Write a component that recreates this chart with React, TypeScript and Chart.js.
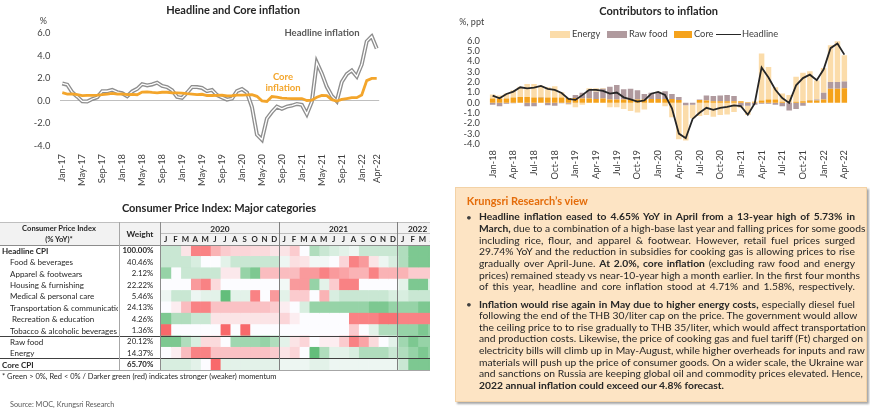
import React, { useEffect, useRef } from 'react';
import { Chart, registerables } from 'chart.js';

Chart.register(...registerables);

const FONT = 'Lato, "Open Sans", sans-serif';
const TXT = '#404040';
const DARK = '#262626';
const ORANGE = '#f3a52b';
const CORE_BAR = '#f5a21b';
const RAW_BAR = '#b09a9e';
const ENERGY_BAR = '#fbdcaa';

// ---------- Headline and Core inflation (Jan-17 .. Apr-22)
const LEFT_MONTHS = [
  'Jan-17','Feb-17','Mar-17','Apr-17','May-17','Jun-17','Jul-17','Aug-17','Sep-17','Oct-17','Nov-17','Dec-17',
  'Jan-18','Feb-18','Mar-18','Apr-18','May-18','Jun-18','Jul-18','Aug-18','Sep-18','Oct-18','Nov-18','Dec-18',
  'Jan-19','Feb-19','Mar-19','Apr-19','May-19','Jun-19','Jul-19','Aug-19','Sep-19','Oct-19','Nov-19','Dec-19',
  'Jan-20','Feb-20','Mar-20','Apr-20','May-20','Jun-20','Jul-20','Aug-20','Sep-20','Oct-20','Nov-20','Dec-20',
  'Jan-21','Feb-21','Mar-21','Apr-21','May-21','Jun-21','Jul-21','Aug-21','Sep-21','Oct-21','Nov-21','Dec-21',
  'Jan-22','Feb-22','Mar-22','Apr-22',
];
const LEFT_TICKS = ['Jan-17','May-17','Sep-17','Jan-18','May-18','Sep-18','Jan-19','May-19','Sep-19','Jan-20','May-20','Sep-20','Jan-21','May-21','Sep-21','Jan-22','Apr-22'];
const HEADLINE = [
  1.55,1.44,0.76,0.38,-0.04,-0.05,0.17,0.32,0.86,0.86,0.98,0.78,
  0.68,0.42,0.84,1.07,1.49,1.38,1.46,1.62,1.33,1.23,0.94,0.36,
  0.27,0.73,1.24,1.23,1.15,0.87,0.98,0.52,0.32,0.11,0.21,0.87,
  1.05,0.74,-0.54,-2.99,-3.44,-1.57,-0.98,-0.50,-0.70,-0.50,-0.41,-0.27,
  -0.34,-1.17,-0.08,3.41,2.44,1.25,0.45,-0.02,1.68,2.38,2.71,2.17,
  3.23,5.28,5.73,4.65,
];
const CORE = [
  0.73,0.61,0.63,0.56,0.47,0.49,0.50,0.52,0.56,0.61,0.66,0.61,
  0.62,0.56,0.58,0.55,0.78,0.81,0.76,0.72,0.77,0.77,0.72,0.71,
  0.69,0.64,0.61,0.56,0.59,0.48,0.48,0.49,0.51,0.44,0.46,0.52,
  0.52,0.53,0.56,0.41,0.01,-0.05,0.39,0.33,0.24,0.22,0.21,0.21,
  0.21,0.04,0.07,0.32,0.49,0.47,0.11,-0.01,0.13,0.21,0.29,0.29,
  0.52,1.80,2.00,2.00,
];

// ---------- Contributors to inflation (Jan-18 .. Apr-22)
const RIGHT_MONTHS = LEFT_MONTHS.slice(12);
const RIGHT_TICKS = ['Jan-18','Apr-18','Jul-18','Oct-18','Jan-19','Apr-19','Jul-19','Oct-19','Jan-20','Apr-20','Jul-20','Oct-20','Jan-21','Apr-21','Jul-21','Oct-21','Jan-22','Apr-22'];
const CORE_C = [
  0.4,0.4,0.4,0.5,0.55,0.55,0.5,0.5,0.5,0.5,0.5,0.45,
  0.45,0.4,0.4,0.35,0.4,0.3,0.3,0.3,0.35,0.3,0.3,0.35,
  0.35,0.35,0.35,0.25,0.0,0.0,0.25,0.2,0.15,0.15,0.15,0.15,
  0.15,0.03,0.05,0.2,0.3,0.3,0.1,0.0,0.1,0.15,0.2,0.2,
  0.3,1.35,1.35,1.4,
];
const RAW_C = [
  -0.2,-0.35,-0.1,-0.05,0,-0.35,-0.35,0.05,-0.25,-0.3,-0.05,-0.1,
  0.3,0.55,0.8,0.7,0.95,1.25,1.4,1.0,1.0,0.9,0.55,0.6,
  0.6,0.75,0.5,0.3,-0.25,-0.2,0.05,0.5,0.5,0.55,0.6,0.5,
  -0.3,-0.3,-0.2,-0.1,-0.1,-0.2,-0.35,-0.75,-0.6,-0.3,0.05,0.1,
  0.65,0.65,0.65,0.65,
];
const ENERGY_C = [
  0.4,0.3,0.5,0.7,1.0,1.25,1.3,1.1,1.0,1.1,0.5,-0.1,
  -0.45,-0.2,0.2,0.35,0.07,-0.45,-0.45,-0.6,-0.8,-0.95,-0.65,0.0,
  0.1,-0.35,-1.4,-3.55,-3.4,-1.3,-1.3,-1.2,-1.35,-1.2,-1.15,-0.9,
  -0.2,-0.9,0.1,4.55,3.15,1.2,0.8,0.75,2.4,2.75,2.8,1.85,
  2.4,3.55,3.95,2.55,
];
const HEADLINE_R = HEADLINE.slice(12);

// ---------- CPI heatmap (momentum level, -3 weakest .. +3 strongest), Jan-20 .. Apr-22
const CPI_ROWS = ['Headline CPI','Food & beverages','Apparel & footwears','Housing & furnishing','Medical & personal care','Transportation & communication','Recreation & education','Tobacco & alcoholic beverages','Raw food','Energy','Core CPI'];
const CPI_WEIGHTS = ['100.00%','40.46%','2.12%','22.22%','5.46%','24.13%','4.26%','1.36%','20.12%','14.37%','65.70%'];
const HEAT_YEARS = ['2020','2021','2022'];
const HEAT_YEAR_MONTHS = [12, 12, 4];
const MONTH_LETTERS = ['J','F','M','A','M','J','J','A','S','O','N','D'];
const HM_HEADLINE = [1,1,-0.5,-2.5,-2.5,-1.5,-1,-0.8,-0.8,-0.7,-0.7,-0.5, -0.5,-1,0,1.5,1,0.7,0.5,0.3,1,1,1,1, 1.5,2.5,2.5,2.5];
const HM_FOOD = [1,1,1,0.7,0,0,0.5,1,1,1,1,1, 0.3,-0.6,-0.5,0.2,0.2,0,-0.8,-2.5,-2,-0.5,0.3,0.7, 1.5,2.5,2.5,2.5];
const HM_APPAREL = [2,0,1,1,1,1,-0.4,-0.4,2,2.5,-1.3,-1.3, -1.3,-1.3,-2,-2,-2.5,-2,-1.8,-1.5,-1.5,-2.5,-1.5,-1.5, -1.5,-1,-1,-1];
const HM_HOUSING = [0,0,0,-2,-2.5,-0.7,0,0,0,0,0,0, 0.2,-2,-2,2,0.5,-1,-2.5,-2.5,0,0,0,0, 0.5,2.5,2.5,0.5];
const HM_MEDICAL = [0.3,1,1,0.3,0.5,0.5,3,0.5,0.5,-2.5,0,-2, 0.5,-1,-1,0,-1.5,0.7,1,1,1,1,1,0.7, 0.7,1,1,1];
const HM_TRANSPORT = [0,-0.3,-1.3,-2.5,-2.5,-1.2,-1.2,-1.2,-1.2,-1.2,-1.2,-1, -0.3,0,0.7,2,2,2,2,2,2,2.5,2.5,2, 2,2,2.5,2.5];
const HM_RECREATION = [2.5,1.5,1.5,1,1,-0.5,-0.5,-0.5,-0.5,-0.5,-0.5,-0.5, -0.8,-0.3,0,0,0,0,0,-2.5,-2.5,-2.5,-2.8,-2.8, -2.5,-2.5,-2.5,-2.5];
const HM_TOBACCO = [-3,0,0,0,0,0,-3,0,-3,0,0,0, 0,0,0,0,0,0,0,-1,0,0.5,1.5,1.5, 2,2,2.5,2];
const HM_RAWFOOD = [2.5,2.5,1.5,0.7,-0.7,-0.7,0,1.8,1.8,1.8,2,1.5, 0.5,-0.5,-0.8,0,-0.3,-0.3,-1,-2.5,-1.8,-0.7,0,0.5, 1.8,2.5,2,2];
const HM_ENERGY = [0,-0.3,-1.3,-2.5,-2.5,-1.2,-1.2,-1.2,-1.2,-1.2,-1.2,-1, -0.5,-0.8,0,3,1.5,0.5,0.5,0.7,1.5,1.5,1.5,1, 1.5,2,2.5,2];
const HM_CORE = [0.7,0.7,0.7,0.5,0,-3,0.5,0.5,0.5,0.5,0.5,0.5, 0.3,0.3,0.3,0.5,0.5,0.3,0.3,0.3,0.3,0.3,0.3,0.3, 1,2.5,2.5,2.5];
const HEAT_LEVELS = [HM_HEADLINE, HM_FOOD, HM_APPAREL, HM_HOUSING, HM_MEDICAL, HM_TRANSPORT, HM_RECREATION, HM_TOBACCO, HM_RAWFOOD, HM_ENERGY, HM_CORE];

// ---------- Text box
type Seg = [string, boolean];
const BOX_P1: Seg[][] = [
  [['Headline inflation eased to 4.65% YoY in April from a 13-year high of 5.73% in', true]],
  [['March,', true], [' due to a combination of a high-base last year and falling prices for some goods', false]],
  [['including rice, flour, and apparel & footwear. However, retail fuel prices surged', false]],
  [['29.74% YoY and the reduction in subsidies for cooking gas is allowing prices to rise', false]],
  [['gradually over April-June. ', false], ['At 2.0%, core inflation', true], [' (excluding raw food and energy', false]],
  [['prices) remained steady vs near-10-year high a month earlier. In the first four months', false]],
  [['of this year, headline and core inflation stood at 4.71% and 1.58%, respectively.', false]],
];
const BOX_P2: Seg[][] = [
  [['Inflation would rise again in May due to higher energy costs,', true], [' especially diesel fuel', false]],
  [['following the end of the THB 30/liter cap on the price. The government would allow', false]],
  [['the ceiling price to to rise gradually to THB 35/liter, which would affect transportation', false]],
  [['and production costs. Likewise, the price of cooking gas and fuel tariff (Ft) charged on', false]],
  [['electricity bills will climb up in May-August, while higher overheads for inputs and raw', false]],
  [['materials will push up the price of consumer goods. On a wider scale, the Ukraine war', false]],
  [['and sanctions on Russia are keeping global oil and commodity prices elevated. Hence,', false]],
  [['2022 annual inflation could exceed our 4.8% forecast.', true]],
];

// ---------- layout constants
const HX = 160.7; // heatmap left
const CW = 9.88; // heat column width
const HY = 245.3; // first data row top
const RH = 11.36; // row height

function levelColor(v: number) {
  const t = Math.max(-1, Math.min(1, v / 3));
  const w = [252, 252, 255];
  const g = [99, 190, 123];
  const r = [248, 105, 107];
  const c = t >= 0 ? g : r;
  const a = Math.abs(t);
  const m = w.map((x, i) => Math.round(x + (c[i] - x) * a));
  return `rgb(${m[0]},${m[1]},${m[2]})`;
}

function Txt(props: { x: number; y: number; text: React.ReactNode; size?: number; bold?: boolean; color?: string; align?: 'left' | 'center' | 'right'; w?: number; clip?: boolean }) {
  const { x, y, text, size = 9, bold = false, color = DARK, align = 'left', w = 300, clip = false } = props;
  const h = Math.ceil(size * 1.4);
  let left = x;
  if (align === 'center') left = x - w / 2;
  if (align === 'right') left = x - w;
  return (
    <div style={{ position: 'absolute', left, top: y - h / 2, width: w, height: h, lineHeight: h + 'px', fontSize: size, fontWeight: bold ? 700 : 400, color, textAlign: align, whiteSpace: 'nowrap', overflow: clip ? 'hidden' : 'visible', fontFamily: FONT, zIndex: 3 }}>
      {text}
    </div>
  );
}

function HLine({ x1, x2, y, color, t = 1 }: { x1: number; x2: number; y: number; color: string; t?: number }) {
  return <div style={{ position: 'absolute', left: x1, top: y - t / 2, width: x2 - x1, height: t, background: color, zIndex: 2 }} />;
}
function VLine({ x, y1, y2, color, t = 1 }: { x: number; y1: number; y2: number; color: string; t?: number }) {
  return <div style={{ position: 'absolute', left: x - t / 2, top: y1, width: t, height: y2 - y1, background: color, zIndex: 2 }} />;
}

export default function App() {
  const leftRef = useRef<HTMLCanvasElement>(null);
  const rightRef = useRef<HTMLCanvasElement>(null);
  const heatRef = useRef<HTMLCanvasElement>(null);

  useEffect(() => {
    const charts: Chart[] = [];
    const tickFont = { family: FONT, size: 9.3 };

    charts.push(new Chart(leftRef.current!, {
      type: 'line',
      data: {
        labels: LEFT_MONTHS,
        datasets: [
          { label: 'Core inflation', data: CORE, borderColor: ORANGE, borderWidth: 2.8, pointRadius: 0, tension: 0, order: -3 },
          { label: 'Headline inner', data: HEADLINE, borderColor: '#ffffff', borderWidth: 1.3, pointRadius: 0, tension: 0, order: -2 },
          { label: 'Headline inflation', data: HEADLINE, borderColor: '#8e8e8e', borderWidth: 4, pointRadius: 0, tension: 0, order: -1 },
        ],
      },
      options: {
        animation: false,
        responsive: true,
        maintainAspectRatio: false,
        layout: { padding: { top: 33.3, right: 20.8, left: 0, bottom: 0 } },
        plugins: { legend: { display: false }, tooltip: { enabled: false } },
        scales: {
          x: {
            offset: true,
            grid: { display: false, drawTicks: false },
            border: { display: false },
            ticks: {
              autoSkip: false, maxRotation: 90, minRotation: 90, padding: 8, color: TXT, font: tickFont,
              callback: (_v: any, i: number) => (LEFT_TICKS.includes(LEFT_MONTHS[i]) ? LEFT_MONTHS[i] : ''),
            },
            afterFit: (s: any) => { s.height = 46; },
          },
          y: {
            min: -4, max: 6,
            ticks: { stepSize: 2, padding: 9.5, color: TXT, font: tickFont, callback: (v: any) => Number(v).toFixed(1) },
            grid: { drawTicks: false, color: (ctx: any) => (ctx.tick && ctx.tick.value === 0 ? '#bfbfbf' : 'rgba(0,0,0,0)'), lineWidth: 1 },
            border: { display: false },
            afterFit: (s: any) => { s.width = 59.8; },
          },
        },
      },
    } as any));

    charts.push(new Chart(rightRef.current!, {
      type: 'bar',
      data: {
        labels: RIGHT_MONTHS,
        datasets: [
          { type: 'bar', label: 'Core', data: CORE_C, backgroundColor: CORE_BAR, stack: 'c' },
          { type: 'bar', label: 'Raw food', data: RAW_C, backgroundColor: RAW_BAR, stack: 'c' },
          { type: 'bar', label: 'Energy', data: ENERGY_C, backgroundColor: ENERGY_BAR, stack: 'c' },
          { type: 'line', label: 'Headline', data: HEADLINE_R, borderColor: DARK, borderWidth: 1.8, pointRadius: 0, tension: 0, stack: 'h', order: -1 },
        ],
      },
      options: {
        animation: false,
        responsive: true,
        maintainAspectRatio: false,
        layout: { padding: { top: 40.7, right: 22.2, left: 0, bottom: 0 } },
        datasets: { bar: { categoryPercentage: 0.8, barPercentage: 1 } },
        plugins: { legend: { display: false }, tooltip: { enabled: false } },
        scales: {
          x: {
            stacked: true,
            offset: true,
            grid: { display: false, drawTicks: false },
            border: { display: false },
            ticks: {
              autoSkip: false, maxRotation: 90, minRotation: 90, padding: 6, color: TXT, font: tickFont,
              callback: (_v: any, i: number) => (RIGHT_TICKS.includes(RIGHT_MONTHS[i]) ? RIGHT_MONTHS[i] : ''),
            },
            afterFit: (s: any) => { s.height = 48; },
          },
          y: {
            stacked: true,
            min: -4, max: 6,
            ticks: { stepSize: 1, autoSkip: false, padding: 9.2, color: TXT, font: tickFont, callback: (v: any) => Number(v).toFixed(1) },
            grid: { display: false, drawTicks: false },
            border: { display: false },
            afterFit: (s: any) => { s.width = 59.2; },
          },
        },
      },
    } as any));

    const nCols = HM_HEADLINE.length;
    charts.push(new Chart(heatRef.current!, {
      type: 'bar',
      data: {
        labels: CPI_ROWS,
        datasets: HM_HEADLINE.map((_x, j) => ({
          label: 'col' + j,
          data: CPI_ROWS.map(() => 1),
          backgroundColor: HEAT_LEVELS.map((row) => levelColor(row[j])),
          borderWidth: 0,
        })),
      },
      options: {
        indexAxis: 'y',
        animation: false,
        responsive: true,
        maintainAspectRatio: false,
        layout: { padding: 0 },
        datasets: { bar: { categoryPercentage: 1, barPercentage: 1 } },
        plugins: { legend: { display: false }, tooltip: { enabled: false } },
        scales: {
          x: { stacked: true, display: false, min: 0, max: nCols },
          y: { stacked: true, display: false },
        },
      },
    } as any));

    return () => charts.forEach((c) => c.destroy());
  }, []);

  const rowIndent = [2, 10, 10, 10, 10, 10, 12, 10, 10, 10, 2];
  const rowBold = [true, false, false, false, false, false, false, false, false, false, true];
  const monthHeaders: { x: number; l: string }[] = [];
  const yearHeaders: { x: number; y: string }[] = [];
  let col = 0;
  HEAT_YEARS.forEach((yr, k) => {
    const n = HEAT_YEAR_MONTHS[k];
    yearHeaders.push({ x: HX + (col + n / 2) * CW, y: yr });
    for (let i = 0; i < n; i++) monthHeaders.push({ x: HX + (col + i + 0.5) * CW, l: MONTH_LETTERS[i] });
    col += n;
  });
  const yearDividers = [HX + 12 * CW, HX + 24 * CW];
  const tableBottom = HY + 11 * RH;

  const renderLine = (segs: Seg[], cy: number, last: boolean, key: string) => (
    <div key={key} style={{ position: 'absolute', left: 479, width: 376, top: cy - 6.5, height: 13, lineHeight: '13px', fontSize: 10.3, whiteSpace: 'nowrap', textAlign: last ? 'left' : 'justify', textAlignLast: last ? 'left' : 'justify', color: DARK, fontFamily: FONT } as any}>
      {segs.map((s, i) => <span key={i} style={{ fontWeight: s[1] ? 700 : 400 }}>{s[0]}</span>)}
    </div>
  );

  return (
    <div style={{ position: 'fixed', left: 0, top: 0, width: 870, height: 413, background: '#ffffff', overflow: 'hidden', fontFamily: FONT, color: DARK }}>
      {/* Left chart */}
      <Txt x={233} y={9.5} text="Headline and Core inflation" size={11} bold align="center" w={260} />
      <Txt x={43.3} y={20} text="%" size={9} color={TXT} align="center" w={20} />
      <div style={{ position: 'absolute', left: 0, top: 0, width: 400, height: 192 }}>
        <canvas ref={leftRef} />
      </div>
      <Txt x={322} y={33} text="Headline inflation" size={9.5} bold color="#595959" align="center" w={120} />
      <Txt x={283} y={77} text="Core" size={9.5} bold color={ORANGE} align="center" w={60} />
      <Txt x={283} y={88} text="inflation" size={9.5} bold color={ORANGE} align="center" w={60} />

      {/* Right chart */}
      <Txt x={658.7} y={11} text="Contributors to inflation" size={11} bold align="center" w={240} />
      <Txt x={459.3} y={21.7} text="%, ppt" size={9} color={TXT} />
      <div style={{ position: 'absolute', left: 430, top: 0, width: 440, height: 192 }}>
        <canvas ref={rightRef} />
      </div>
      <div style={{ position: 'absolute', left: 550, top: 31, width: 20, height: 7, background: ENERGY_BAR }} />
      <Txt x={572} y={34.3} text="Energy" size={9.3} color={TXT} w={40} />
      <div style={{ position: 'absolute', left: 607, top: 31, width: 20, height: 7, background: RAW_BAR }} />
      <Txt x={629} y={34.3} text="Raw food" size={9.3} color={TXT} w={50} />
      <div style={{ position: 'absolute', left: 674, top: 31, width: 18, height: 7, background: CORE_BAR }} />
      <Txt x={694} y={34.3} text="Core" size={9.3} color={TXT} w={30} />
      <div style={{ position: 'absolute', left: 716, top: 33.5, width: 25, height: 1.7, background: DARK }} />
      <Txt x={742} y={34.3} text="Headline" size={9.3} color={TXT} w={50} />

      {/* Table */}
      <Txt x={219} y={208.3} text="Consumer Price Index: Major categories" size={11} bold align="center" w={300} />
      <div style={{ position: 'absolute', left: 0, top: 0, width: 430, height: 413, overflow: 'hidden' }}>
        <div style={{ position: 'absolute', left: 0, top: 222, width: 440, height: HY - 222, background: '#f2f2f2' }} />
        <div style={{ position: 'absolute', left: HX, top: HY, width: CW * HM_HEADLINE.length, height: 11 * RH }}>
          <canvas ref={heatRef} />
        </div>
        <HLine x1={0} x2={440} y={222} color="#bfbfbf" />
        <HLine x1={HX} x2={440} y={233.6} color="#bfbfbf" />
        <HLine x1={0} x2={440} y={HY} color="#8c8c8c" />
        <HLine x1={0} x2={440} y={HY + 8 * RH} color="#404040" />
        <HLine x1={0} x2={440} y={HY + 10 * RH} color="#404040" />
        <HLine x1={0} x2={440} y={tableBottom} color="#a6a6a6" />
        <VLine x={119} y1={222} y2={tableBottom} color="#a6a6a6" />
        <VLine x={HX} y1={222} y2={tableBottom} color="#8c8c8c" />
        {yearDividers.map((x, i) => <VLine key={'yd' + i} x={x} y1={222} y2={tableBottom} color="#7f7f7f" />)}
        <Txt x={59} y={228.7} text="Consumer Price Index" size={7.6} bold align="center" w={115} />
        <Txt x={59} y={239} text="(% YoY)*" size={7.6} bold align="center" w={110} />
        <Txt x={140} y={233.6} text="Weight" size={8.3} bold align="center" w={40} />
        {yearHeaders.map((h, i) => <Txt key={'yh' + i} x={h.x} y={228.5} text={h.y} size={8.3} bold align="center" w={40} />)}
        {monthHeaders.map((h, i) => <Txt key={'mh' + i} x={h.x} y={239.3} text={h.l} size={7.8} bold align="center" w={10} />)}
        {CPI_ROWS.map((r, i) => (
          <Txt key={'rl' + i} x={rowIndent[i]} y={HY + (i + 0.5) * RH} text={r} size={8} bold={rowBold[i]} w={118 - rowIndent[i]} clip />
        ))}
        {CPI_WEIGHTS.map((wt, i) => (
          <Txt key={'wt' + i} x={153.3} y={HY + (i + 0.5) * RH} text={wt} size={7.8} bold={rowBold[i]} align="right" w={40} />
        ))}
      </div>
      <Txt x={2} y={376.7} text="* Green > 0%, Red < 0% / Darker green (red) indicates stronger (weaker) momentum" size={7.5} w={400} />
      <Txt x={10} y={404} text="Source: MOC, Krungsri Research" size={7.3} color="#595959" w={200} />

      {/* Text box */}
      <div style={{ position: 'absolute', left: 455, top: 187, width: 412, height: 215, background: '#fde4c4', border: '1px solid #f3d2a6', boxSizing: 'border-box', boxShadow: '2px 2px 2px rgba(0,0,0,0.35)' }} />
      <Txt x={466.7} y={201} text="Krungsri Research’s view" size={11} bold color="#e46c0a" w={200} />
      <Txt x={469} y={216.7} text="•" size={10} color={TXT} align="center" w={10} />
      <Txt x={469} y={304} text="•" size={10} color={TXT} align="center" w={10} />
      {BOX_P1.map((segs, i) => renderLine(segs, 216.7 + i * 11.7, false, 'p1' + i))}
      {BOX_P2.map((segs, i) => renderLine(segs, 304 + i * 11.6, i === BOX_P2.length - 1, 'p2' + i))}
    </div>
  );
}
